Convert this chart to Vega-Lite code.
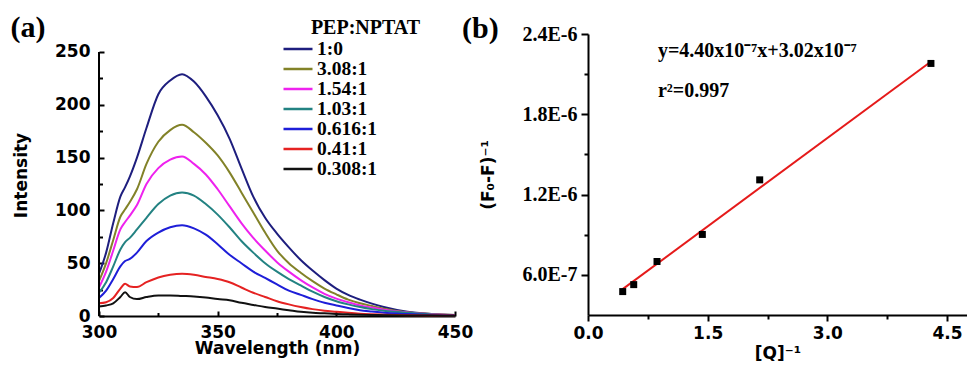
{
  "$schema": "https://vega.github.io/schema/vega-lite/v6.json",
  "padding": {"left": 10, "top": 12, "right": 0, "bottom": 0},
  "spacing": -11,
  "background": "white",
  "config": {
    "view": {"stroke": null},
    "axis": {"grid": false, "domainColor": "black", "domainWidth": 2, "tickColor": "black", "tickWidth": 2, "labelColor": "black", "titleColor": "black", "labelFlush": false, "labelOverlap": false}
  },
  "datasets": {
    "spectra": [
      {"s":"1:0","w":300,"i":40},{"s":"1:0","w":303,"i":60},{"s":"1:0","w":306,"i":88},{"s":"1:0","w":309,"i":113},{"s":"1:0","w":311,"i":122},{"s":"1:0","w":313,"i":132},{"s":"1:0","w":316,"i":150},{"s":"1:0","w":320,"i":178},{"s":"1:0","w":325,"i":210},{"s":"1:0","w":330,"i":223},{"s":"1:0","w":335,"i":229},{"s":"1:0","w":340,"i":222},{"s":"1:0","w":345,"i":208},{"s":"1:0","w":350,"i":190},{"s":"1:0","w":355,"i":168},{"s":"1:0","w":360,"i":140},{"s":"1:0","w":365,"i":113},{"s":"1:0","w":370,"i":93},{"s":"1:0","w":375,"i":78},{"s":"1:0","w":380,"i":65},{"s":"1:0","w":385,"i":53},{"s":"1:0","w":390,"i":43},{"s":"1:0","w":395,"i":34},{"s":"1:0","w":400,"i":26},{"s":"1:0","w":405,"i":20},{"s":"1:0","w":410,"i":15.5},{"s":"1:0","w":415,"i":11.7},{"s":"1:0","w":420,"i":8.5},{"s":"1:0","w":430,"i":4},{"s":"1:0","w":440,"i":2},{"s":"1:0","w":450,"i":1},
      {"s":"3.08:1","w":300,"i":33},{"s":"3.08:1","w":303,"i":50},{"s":"3.08:1","w":306,"i":72},{"s":"3.08:1","w":309,"i":94},{"s":"3.08:1","w":311,"i":101},{"s":"3.08:1","w":313,"i":108},{"s":"3.08:1","w":316,"i":120},{"s":"3.08:1","w":320,"i":144},{"s":"3.08:1","w":325,"i":165},{"s":"3.08:1","w":330,"i":176},{"s":"3.08:1","w":335,"i":181},{"s":"3.08:1","w":340,"i":174},{"s":"3.08:1","w":345,"i":164},{"s":"3.08:1","w":350,"i":152},{"s":"3.08:1","w":355,"i":136},{"s":"3.08:1","w":360,"i":117},{"s":"3.08:1","w":365,"i":98},{"s":"3.08:1","w":370,"i":79},{"s":"3.08:1","w":375,"i":62},{"s":"3.08:1","w":380,"i":50},{"s":"3.08:1","w":385,"i":41},{"s":"3.08:1","w":390,"i":33},{"s":"3.08:1","w":395,"i":26},{"s":"3.08:1","w":400,"i":20.5},{"s":"3.08:1","w":405,"i":15.5},{"s":"3.08:1","w":410,"i":12},{"s":"3.08:1","w":415,"i":9.5},{"s":"3.08:1","w":420,"i":7},{"s":"3.08:1","w":430,"i":3.5},{"s":"3.08:1","w":440,"i":1.8},{"s":"3.08:1","w":450,"i":1},
      {"s":"1.54:1","w":300,"i":27},{"s":"1.54:1","w":303,"i":42},{"s":"1.54:1","w":306,"i":62},{"s":"1.54:1","w":309,"i":82},{"s":"1.54:1","w":311,"i":89},{"s":"1.54:1","w":313,"i":95},{"s":"1.54:1","w":316,"i":105},{"s":"1.54:1","w":320,"i":125},{"s":"1.54:1","w":325,"i":140},{"s":"1.54:1","w":330,"i":148},{"s":"1.54:1","w":335,"i":151},{"s":"1.54:1","w":340,"i":144},{"s":"1.54:1","w":345,"i":134},{"s":"1.54:1","w":350,"i":120},{"s":"1.54:1","w":355,"i":104},{"s":"1.54:1","w":360,"i":88},{"s":"1.54:1","w":365,"i":74},{"s":"1.54:1","w":370,"i":62},{"s":"1.54:1","w":375,"i":51},{"s":"1.54:1","w":380,"i":42},{"s":"1.54:1","w":385,"i":34},{"s":"1.54:1","w":390,"i":27},{"s":"1.54:1","w":395,"i":21},{"s":"1.54:1","w":400,"i":16.5},{"s":"1.54:1","w":405,"i":13},{"s":"1.54:1","w":410,"i":10},{"s":"1.54:1","w":415,"i":8},{"s":"1.54:1","w":420,"i":6},{"s":"1.54:1","w":430,"i":3.2},{"s":"1.54:1","w":440,"i":1.6},{"s":"1.54:1","w":450,"i":0.8},
      {"s":"1.03:1","w":300,"i":22},{"s":"1.03:1","w":303,"i":32},{"s":"1.03:1","w":306,"i":47},{"s":"1.03:1","w":309,"i":63},{"s":"1.03:1","w":311,"i":70},{"s":"1.03:1","w":313,"i":74},{"s":"1.03:1","w":316,"i":82},{"s":"1.03:1","w":320,"i":93},{"s":"1.03:1","w":325,"i":106},{"s":"1.03:1","w":330,"i":114},{"s":"1.03:1","w":335,"i":117},{"s":"1.03:1","w":340,"i":114},{"s":"1.03:1","w":345,"i":106},{"s":"1.03:1","w":350,"i":96},{"s":"1.03:1","w":355,"i":84},{"s":"1.03:1","w":360,"i":71},{"s":"1.03:1","w":365,"i":60},{"s":"1.03:1","w":370,"i":50},{"s":"1.03:1","w":375,"i":42},{"s":"1.03:1","w":380,"i":35},{"s":"1.03:1","w":385,"i":29},{"s":"1.03:1","w":390,"i":23},{"s":"1.03:1","w":395,"i":18},{"s":"1.03:1","w":400,"i":14},{"s":"1.03:1","w":405,"i":11},{"s":"1.03:1","w":410,"i":8.5},{"s":"1.03:1","w":415,"i":6.5},{"s":"1.03:1","w":420,"i":5},{"s":"1.03:1","w":430,"i":3},{"s":"1.03:1","w":440,"i":1.5},{"s":"1.03:1","w":450,"i":0.8},
      {"s":"0.616:1","w":300,"i":17},{"s":"0.616:1","w":303,"i":24},{"s":"0.616:1","w":306,"i":35},{"s":"0.616:1","w":309,"i":47},{"s":"0.616:1","w":311,"i":52},{"s":"0.616:1","w":313,"i":54},{"s":"0.616:1","w":316,"i":60},{"s":"0.616:1","w":320,"i":71},{"s":"0.616:1","w":325,"i":79},{"s":"0.616:1","w":330,"i":84},{"s":"0.616:1","w":335,"i":86},{"s":"0.616:1","w":340,"i":83},{"s":"0.616:1","w":345,"i":77},{"s":"0.616:1","w":350,"i":68},{"s":"0.616:1","w":355,"i":58},{"s":"0.616:1","w":360,"i":50},{"s":"0.616:1","w":365,"i":42},{"s":"0.616:1","w":370,"i":36},{"s":"0.616:1","w":375,"i":30},{"s":"0.616:1","w":380,"i":24},{"s":"0.616:1","w":385,"i":20},{"s":"0.616:1","w":390,"i":16},{"s":"0.616:1","w":395,"i":12.5},{"s":"0.616:1","w":400,"i":10},{"s":"0.616:1","w":405,"i":7.5},{"s":"0.616:1","w":410,"i":5.5},{"s":"0.616:1","w":415,"i":4.2},{"s":"0.616:1","w":420,"i":3},{"s":"0.616:1","w":430,"i":1.8},{"s":"0.616:1","w":440,"i":1},{"s":"0.616:1","w":450,"i":0.6},
      {"s":"0.41:1","w":300,"i":12},{"s":"0.41:1","w":303,"i":13},{"s":"0.41:1","w":306,"i":17},{"s":"0.41:1","w":309,"i":26},{"s":"0.41:1","w":311,"i":30.5},{"s":"0.41:1","w":313,"i":28},{"s":"0.41:1","w":316,"i":27.5},{"s":"0.41:1","w":320,"i":32},{"s":"0.41:1","w":325,"i":36.5},{"s":"0.41:1","w":330,"i":39},{"s":"0.41:1","w":335,"i":40},{"s":"0.41:1","w":340,"i":39},{"s":"0.41:1","w":345,"i":37},{"s":"0.41:1","w":350,"i":35},{"s":"0.41:1","w":355,"i":32},{"s":"0.41:1","w":360,"i":27},{"s":"0.41:1","w":365,"i":22},{"s":"0.41:1","w":370,"i":18},{"s":"0.41:1","w":375,"i":14},{"s":"0.41:1","w":380,"i":11},{"s":"0.41:1","w":385,"i":8.5},{"s":"0.41:1","w":390,"i":6.5},{"s":"0.41:1","w":395,"i":5},{"s":"0.41:1","w":400,"i":4},{"s":"0.41:1","w":405,"i":3},{"s":"0.41:1","w":410,"i":2.2},{"s":"0.41:1","w":415,"i":1.7},{"s":"0.41:1","w":420,"i":1.3},{"s":"0.41:1","w":430,"i":0.8},{"s":"0.41:1","w":440,"i":0.5},{"s":"0.41:1","w":450,"i":0.4},
      {"s":"0.308:1","w":300,"i":9},{"s":"0.308:1","w":303,"i":10},{"s":"0.308:1","w":306,"i":12},{"s":"0.308:1","w":309,"i":18},{"s":"0.308:1","w":311,"i":22.5},{"s":"0.308:1","w":313,"i":18},{"s":"0.308:1","w":316,"i":16},{"s":"0.308:1","w":320,"i":18},{"s":"0.308:1","w":325,"i":19.5},{"s":"0.308:1","w":330,"i":19.5},{"s":"0.308:1","w":335,"i":19},{"s":"0.308:1","w":340,"i":18.5},{"s":"0.308:1","w":345,"i":17.5},{"s":"0.308:1","w":350,"i":16},{"s":"0.308:1","w":355,"i":15},{"s":"0.308:1","w":360,"i":12.5},{"s":"0.308:1","w":365,"i":10.5},{"s":"0.308:1","w":370,"i":8.5},{"s":"0.308:1","w":375,"i":7},{"s":"0.308:1","w":380,"i":5.5},{"s":"0.308:1","w":385,"i":4},{"s":"0.308:1","w":390,"i":3},{"s":"0.308:1","w":395,"i":2.5},{"s":"0.308:1","w":400,"i":2},{"s":"0.308:1","w":405,"i":1.6},{"s":"0.308:1","w":410,"i":1.2},{"s":"0.308:1","w":415,"i":1},{"s":"0.308:1","w":420,"i":0.8},{"s":"0.308:1","w":430,"i":0.5},{"s":"0.308:1","w":440,"i":0.4},{"s":"0.308:1","w":450,"i":0.3}
    ],
    "axisLineA": [{"x": 300, "y": 0, "y2": 250}],
    "legendTitleA": [{"x": 412.3, "y": 273, "t": "PEP:NPTAT"}],
    "points": [
      {"x": 0.435, "y": 4.75e-7},
      {"x": 0.573, "y": 5.27e-7},
      {"x": 0.865, "y": 7.0e-7},
      {"x": 1.433, "y": 9.02e-7},
      {"x": 2.152, "y": 1.31e-6},
      {"x": 4.298, "y": 2.18e-6}
    ],
    "fit": [
      {"x": 0.43, "y": 4.912e-7},
      {"x": 4.3, "y": 2.194e-6}
    ],
    "ann": [
      {"x": 0.877, "y": 2.2275e-6, "t": "y=4.40x10⁻⁷x+3.02x10⁻⁷"},
      {"x": 0.877, "y": 1.9275e-6, "t": "r²=0.997"}
    ]
  },
  "hconcat": [
    {
      "width": 356,
      "height": 282,
      "title": {"text": "(a)", "anchor": "start", "frame": "bounds", "font": "Liberation Serif", "fontSize": 30, "fontWeight": "bold", "color": "black", "offset": 0, "dx": -2, "dy": 25},
      "layer": [
        {
          "data": {"name": "spectra"},
          "mark": {"type": "line", "strokeWidth": 2, "interpolate": "monotone"},
          "encoding": {
            "x": {"field": "w", "type": "quantitative", "scale": {"domain": [300, 450], "nice": false, "zero": false},
              "axis": {"orient": "bottom", "values": [300, 350, 400, 450], "format": "d", "tickSize": -5, "labelPadding": 13, "labelFont": "DejaVu Sans", "labelFontWeight": "bold", "labelFontSize": 17, "title": "Wavelength (nm)", "titleFont": "DejaVu Sans", "titleFontWeight": "bold", "titleFontSize": 17, "titlePadding": 0}},
            "y": {"field": "i", "type": "quantitative", "scale": {"domain": [0, 267], "nice": false},
              "axis": {"orient": "left", "values": [0, 50, 100, 150, 200, 250], "format": "d", "tickSize": -5, "domain": false, "labelPadding": 14, "labelFont": "DejaVu Sans", "labelFontWeight": "bold", "labelFontSize": 17, "title": "Intensity", "titleFont": "DejaVu Sans", "titleFontWeight": "bold", "titleFontSize": 17, "titlePadding": 24}},
            "color": {"field": "s", "type": "nominal",
              "scale": {"domain": ["1:0", "3.08:1", "1.54:1", "1.03:1", "0.616:1", "0.41:1", "0.308:1"], "range": ["#1e1e7e", "#828228", "#ee22ee", "#238282", "#1e1ed8", "#e52222", "#111111"]},
              "legend": {"orient": "none", "legendX": 183, "legendY": 6, "title": null, "symbolType": "stroke", "symbolSize": 841, "symbolStrokeWidth": 2.5, "labelFont": "Liberation Serif", "labelFontWeight": "bold", "labelFontSize": 19.5, "labelColor": "black", "labelOffset": 3, "rowPadding": 0, "clipHeight": 18, "padding": 0}}
          }
        },
        {
          "data": {"name": "axisLineA"},
          "mark": {"type": "rule", "strokeWidth": 2, "color": "black"},
          "encoding": {
            "x": {"field": "x", "type": "quantitative", "axis": {"orient": "bottom", "values": [325, 375, 425], "tickSize": -3.5, "labels": false, "domain": false, "title": null}},
            "y": {"field": "y", "type": "quantitative", "axis": {"orient": "left", "values": [25, 75, 125, 175, 225], "tickSize": -3.5, "labels": false, "domain": false, "title": null}},
            "y2": {"field": "y2"}
          }
        },
        {
          "data": {"name": "legendTitleA"},
          "mark": {"type": "text", "font": "Liberation Serif", "fontWeight": "bold", "fontSize": 20, "color": "black", "align": "center", "baseline": "middle"},
          "encoding": {
            "x": {"field": "x", "type": "quantitative", "axis": null},
            "y": {"field": "y", "type": "quantitative", "axis": null},
            "text": {"field": "t"}
          }
        }
      ],
      "resolve": {"axis": {"x": "independent", "y": "independent"}}
    },
    {
      "width": 379,
      "height": 281,
      "title": {"text": "(b)", "anchor": "start", "frame": "bounds", "font": "Liberation Serif", "fontSize": 30, "fontWeight": "bold", "color": "black", "offset": 0, "dx": -17, "dy": 20},
      "layer": [
        {
          "data": {"name": "fit"},
          "mark": {"type": "line", "color": "#e51a1a", "strokeWidth": 2},
          "encoding": {
            "x": {"field": "x", "type": "quantitative", "scale": {"domain": [0, 4.75], "nice": false, "zero": false},
              "axis": {"orient": "bottom", "values": [0, 1.5, 3, 4.5], "format": ".1f", "tickSize": 6, "labelPadding": 4, "labelFont": "DejaVu Sans", "labelFontWeight": "bold", "labelFontSize": 17, "title": "[Q]⁻¹", "titleFont": "DejaVu Sans", "titleFontWeight": "bold", "titleFontSize": 17, "titlePadding": 4}},
            "y": {"field": "y", "type": "quantitative", "scale": {"domain": [3e-7, 2.4e-6], "nice": false, "zero": false},
              "axis": {"orient": "left", "values": [6e-7, 1.2e-6, 1.8e-6, 2.4e-6], "labelExpr": "upper(format(datum.value, '.1e'))", "tickSize": 7, "labelPadding": 4, "labelFont": "Liberation Serif", "labelFontWeight": "bold", "labelFontSize": 20, "title": "(F₀-F)⁻¹", "titleFont": "DejaVu Sans", "titleFontWeight": "bold", "titleFontSize": 17, "titlePadding": 25}}
          }
        },
        {
          "data": {"name": "points"},
          "mark": {"type": "square", "size": 49, "color": "black", "filled": true, "opacity": 1},
          "encoding": {
            "x": {"field": "x", "type": "quantitative", "axis": {"orient": "bottom", "values": [0.75, 2.25, 3.75], "tickSize": 4, "labels": false, "domain": false, "title": null}},
            "y": {"field": "y", "type": "quantitative", "axis": {"orient": "left", "values": [9e-7, 1.5e-6, 2.1e-6], "tickSize": 4, "labels": false, "domain": false, "title": null}}
          }
        },
        {
          "data": {"name": "ann"},
          "mark": {"type": "text", "font": "Liberation Serif", "fontWeight": "bold", "fontSize": 20, "color": "black", "align": "left", "baseline": "alphabetic"},
          "encoding": {
            "x": {"field": "x", "type": "quantitative", "axis": null},
            "y": {"field": "y", "type": "quantitative", "axis": null},
            "text": {"field": "t"}
          }
        }
      ],
      "resolve": {"axis": {"x": "independent", "y": "independent"}}
    }
  ]
}
